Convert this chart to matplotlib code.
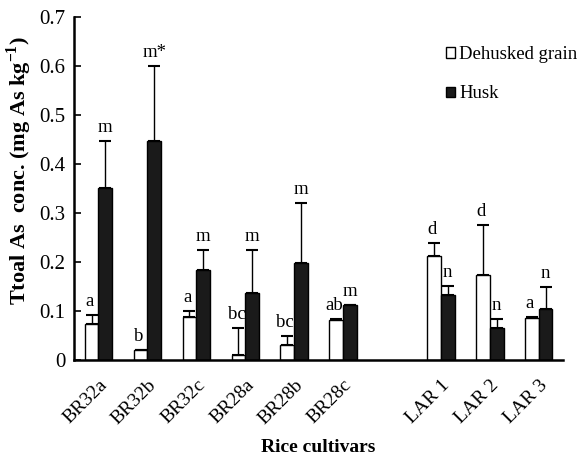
import matplotlib
matplotlib.use("Agg")
import matplotlib.pyplot as plt
import numpy as np

plt.rcParams['font.family'] = ['Liberation Serif', 'DejaVu Serif']
plt.rcParams['mathtext.fontset'] = 'custom'
plt.rcParams['mathtext.rm'] = 'Liberation Serif'
plt.rcParams['mathtext.bf'] = 'Liberation Serif:bold'

cultivars = ["BR32a", "BR32b", "BR32c", "BR28a", "BR28b", "BR28c", "", "LAR 1", "LAR 2", "LAR 3"]
grain = [0.073, 0.020, 0.088, 0.010, 0.030, 0.081, np.nan, 0.213, 0.173, 0.085]
grain_err = [0.018, 0.001, 0.012, 0.056, 0.018, 0.002, np.nan, 0.025, 0.102, 0.002]
husk = [0.351, 0.446, 0.183, 0.137, 0.197, 0.111, np.nan, 0.133, 0.065, 0.104]
husk_err = [0.096, 0.154, 0.041, 0.087, 0.123, 0.002, np.nan, 0.018, 0.019, 0.045]
grain_letters = ["a", "b", "a", "bc", "bc", "ab", "", "d", "d", "a"]
husk_letters = ["m", "m*", "m", "m", "m", "m", "", "n", "n", "n"]

fig = plt.figure(figsize=(5.83, 4.59), dpi=100)
ax = fig.add_axes([0.127, 0.216, 0.839, 0.747])

x = np.arange(len(cultivars))
w = 0.28
ax.bar(x - w/2, grain, w, color="white", edgecolor="black", linewidth=1.0,
       label="Dehusked grain", zorder=2)
ax.bar(x + w/2, husk, w, color="#1a1a1a", edgecolor="black", linewidth=1.0,
       label="Husk", zorder=2)
ax.errorbar(x - w/2, grain, yerr=[np.zeros(len(x)), grain_err], fmt="none",
            ecolor="black", elinewidth=1.0, capsize=4, capthick=1.5, zorder=1)
ax.errorbar(x + w/2, husk, yerr=[np.zeros(len(x)), husk_err], fmt="none",
            ecolor="black", elinewidth=1.0, capsize=4, capthick=1.5, zorder=1)

for i in range(len(x)):
    if grain_letters[i]:
        ax.text(x[i] - w/2 - 0.04, grain[i] + grain_err[i] + 0.01, grain_letters[i],
                ha="center", va="bottom", fontsize=13.5)
    if husk_letters[i]:
        ax.text(x[i] + w/2, husk[i] + husk_err[i] + 0.01, husk_letters[i],
                ha="center", va="bottom", fontsize=13.5)

ax.set_xlim(-0.5, len(x) - 0.5)
ax.set_ylim(0, 0.7)
ax.set_yticks([0, 0.1, 0.2, 0.3, 0.4, 0.5, 0.6, 0.7])
ax.set_yticklabels(["0", "0.1", "0.2", "0.3", "0.4", "0.5", "0.6", "0.7"])
ax.set_xticks([i for i in x if cultivars[i]])
ax.set_xticklabels([c for c in cultivars if c], rotation=45, ha="right",
                   rotation_mode="anchor")
ax.tick_params(axis="y", direction="in", length=5, width=1.2, labelsize=15, pad=6)
ax.tick_params(axis="x", length=0, labelsize=14, pad=12)
for s in ["top", "right"]:
    ax.spines[s].set_visible(False)
ax.spines["left"].set_linewidth(1.8)
ax.spines["bottom"].set_linewidth(1.8)

ax.set_ylabel("Ttoal As  conc. (mg As kg$^{\\mathbf{-1}}$)", fontsize=16,
              fontweight="bold", va="center")
ax.yaxis.set_label_coords(-0.112, 0.553)
ax.set_xlabel("Rice cultivars", fontsize=14, fontweight="bold", va="center")
ax.xaxis.set_label_coords(0.5, -0.255)

ax.legend(loc="upper left", bbox_to_anchor=(446 / 583, 1 - 46 / 459),
          bbox_transform=fig.transFigure, frameon=False, fontsize=13.5,
          borderpad=0, borderaxespad=0,
          handlelength=0.5, handleheight=0.5, handletextpad=0.2, labelspacing=1.2)

fig.savefig("out.png", dpi=100)
